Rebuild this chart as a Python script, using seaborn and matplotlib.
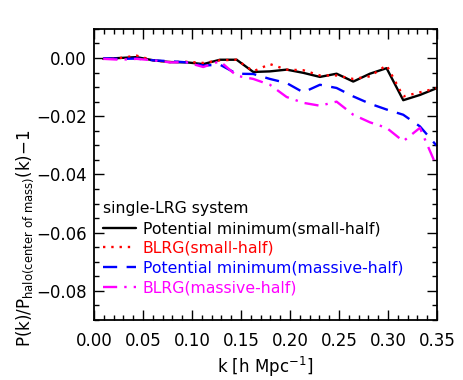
import numpy as np
import pandas as pd
import matplotlib
matplotlib.use("Agg")
import matplotlib.pyplot as plt
from matplotlib.ticker import MultipleLocator
import seaborn as sns

## k bins and the ratio curves
k = [0.0095, 0.0265, 0.0435, 0.0605, 0.0775, 0.0945, 0.1115, 0.1285, 0.1455, 0.1625, 0.1795,
     0.1965, 0.2135, 0.2305, 0.2475, 0.2645, 0.2815, 0.2985, 0.3155, 0.3325, 0.3495]
pot_small = [-0.0003, 0.0000, 0.0003, -0.0008, -0.0014, -0.0015, -0.0021, -0.0006, -0.0006, -0.0048, -0.0046,
             -0.0040, -0.0051, -0.0065, -0.0054, -0.0081, -0.0054, -0.0035, -0.0145, -0.0127, -0.0104]
blrg_small = [-0.0003, 0.0000, 0.0008, -0.0008, -0.0014, -0.0013, -0.0017, -0.0008, -0.0006, -0.0046, -0.0021,
              -0.0040, -0.0042, -0.0060, -0.0060, -0.0072, -0.0063, -0.0025, -0.0132, -0.0118, -0.0104]
pot_massive = [-0.0001, -0.0003, -0.0002, -0.0008, -0.0011, -0.0015, -0.0026, -0.0023, -0.0054, -0.0055, -0.0072,
               -0.0086, -0.0118, -0.0092, -0.0103, -0.0132, -0.0157, -0.0177, -0.0195, -0.0235, -0.0301]
blrg_massive = [-0.0003, -0.0006, -0.0003, -0.0008, -0.0015, -0.0015, -0.0031, -0.0011, -0.0061, -0.0072, -0.0092,
                -0.0134, -0.0154, -0.0164, -0.0150, -0.0195, -0.0221, -0.0240, -0.0286, -0.0240, -0.0372]

labels = ["Potential minimum(small-half)", "BLRG(small-half)",
          "Potential minimum(massive-half)", "BLRG(massive-half)"]
colors = ["black", "red", "blue", "magenta"]
styles = ["-", (0, (1, 2.5)), (0, (6, 4)), (0, (6, 3, 1, 3))]

sns.set_theme(style="ticks", rc={"text.color": "black", "axes.labelcolor": "black",
                                 "xtick.color": "black", "ytick.color": "black",
                                 "axes.edgecolor": "black"})
plt.rcParams["font.family"] = ["DejaVu Sans"]
plt.rcParams["mathtext.fontset"] = "dejavusans"

fig = plt.figure(figsize=(4.63, 3.80), dpi=100)
ax = fig.add_axes([0.203, 0.158, 0.741, 0.766])

for vals, lab, col, ls in zip([pot_small, blrg_small, pot_massive, blrg_massive], labels, colors, styles):
    df = pd.DataFrame({"k": k, "ratio": vals})
    sns.lineplot(data=df, x="k", y="ratio", ax=ax, color=col, linestyle=ls, linewidth=1.7, label=lab)

ax.set_xlim(0, 0.35)
ax.set_ylim(-0.09, 0.01)
ax.xaxis.set_major_locator(MultipleLocator(0.05))
ax.xaxis.set_minor_locator(MultipleLocator(0.01))
ax.yaxis.set_major_locator(MultipleLocator(0.02))
ax.yaxis.set_minor_locator(MultipleLocator(0.005))
ax.xaxis.set_major_formatter(plt.FormatStrFormatter("%.2f"))
ax.yaxis.set_major_formatter(plt.FuncFormatter(lambda v, p: ("%.2f" % v).replace("-", "\u2212")))
ax.tick_params(which="both", direction="in", top=True, right=True, color="black",
               labelcolor="black", labelsize=12)
ax.tick_params(axis="x", which="major", pad=9)
ax.tick_params(axis="y", which="major", pad=5)
ax.tick_params(which="major", length=7, width=1)
ax.tick_params(which="minor", length=3.5, width=1)
for s in ax.spines.values():
    s.set_color("black")
    s.set_linewidth(1.3)

ax.set_xlabel(r"k [h Mpc$^{-1}$]", fontsize=12, labelpad=3)
ax.set_ylabel(r"P(k)/P$_{\mathregular{halo(center\ of\ mass)}}$(k)$-$1", fontsize=12)
ax.yaxis.set_label_coords(-0.17, 0.28)

leg = ax.legend(loc="lower left", bbox_to_anchor=(0.026, 0.085), borderaxespad=0, borderpad=0,
                frameon=False, fontsize=11.3, title="single-LRG system", title_fontsize=11.3,
                handlelength=2.1, handletextpad=0.45, labelspacing=0.3, alignment="left")
leg.get_title().set_color("black")
for txt, col in zip(leg.get_texts(), colors):
    txt.set_color(col)

fig.savefig("out.png", dpi=100)
